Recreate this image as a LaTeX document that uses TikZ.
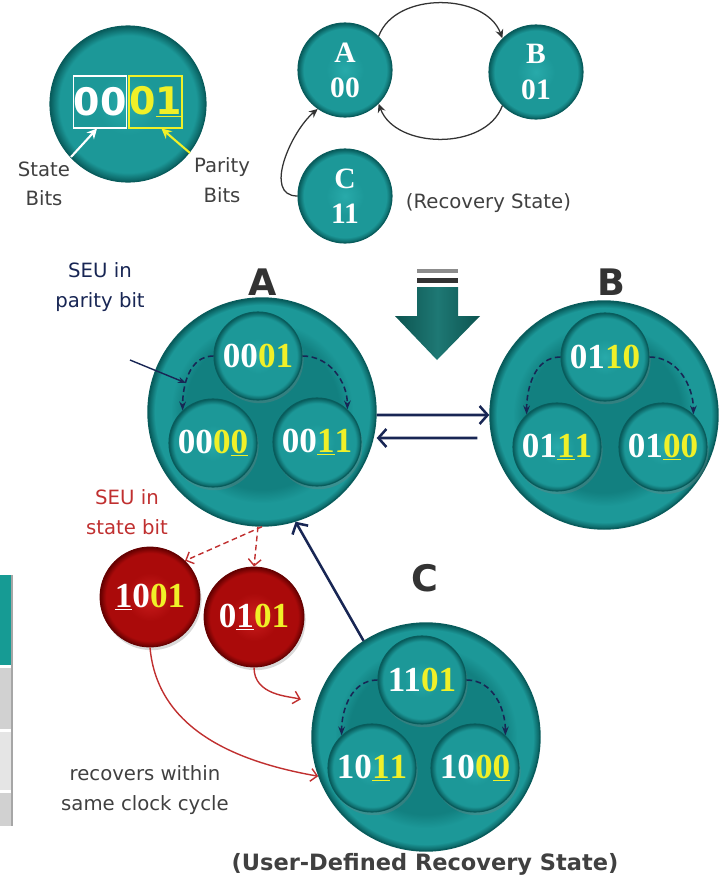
\documentclass[tikz,border=0pt]{standalone}
\usepackage{fontspec}
\setmainfont{DejaVu Sans}
\newfontfamily\bitfont{Liberation Serif}
\usetikzlibrary{arrows.meta}
\usetikzlibrary{shadows}

\definecolor{teallite}{RGB}{40,170,170}
\definecolor{tealmid}{RGB}{28,152,152}
\definecolor{tealin}{RGB}{18,128,128}
\definecolor{tealdark}{RGB}{8,92,92}
\definecolor{redlite}{RGB}{205,30,30}
\definecolor{redmid}{RGB}{170,10,10}
\definecolor{reddark}{RGB}{100,0,0}
\definecolor{bityel}{RGB}{240,240,40}
\definecolor{navy}{RGB}{24,38,84}
\definecolor{seured}{RGB}{192,48,48}
\definecolor{lblgray}{RGB}{64,64,64}
\definecolor{arrowdark}{RGB}{12,84,80}
\definecolor{arrowlite}{RGB}{30,120,116}
\definecolor{tablehead}{RGB}{22,155,148}

\pgfdeclareradialshading{tealball}{\pgfpoint{0bp}{0bp}}{color(0bp)=(teallite); color(10bp)=(tealmid); color(22bp)=(tealmid); color(25bp)=(tealdark); color(50bp)=(tealdark)}
\pgfdeclareradialshading{bigteal}{\pgfpoint{0bp}{0bp}}{color(0bp)=(tealin); color(17bp)=(tealin); color(20bp)=(tealmid); color(23.5bp)=(tealmid); color(25bp)=(tealdark); color(50bp)=(tealdark)}
\pgfdeclareradialshading{redball}{\pgfpoint{0bp}{0bp}}{color(0bp)=(redlite); color(12bp)=(redmid); color(22bp)=(redmid); color(25bp)=(reddark); color(50bp)=(reddark)}

\newcommand\wbit[1]{\textcolor{white}{#1}}
\newcommand\ybit[1]{\textcolor{bityel}{#1}}
\newcommand\ubit[1]{\underline{#1}}

\tikzset{
  ball/.style={circle, shade, shading=tealball, draw=tealdark, line width=0.8pt, inner sep=0pt},
  bigball/.style={circle, shade, shading=bigteal, draw=tealdark, line width=1pt, minimum size=57mm},
  bitball/.style={ball, minimum size=22mm, drop shadow={opacity=0.3, shadow xshift=0.4mm, shadow yshift=-0.8mm},
    font=\bitfont\bfseries\fontsize{25}{25}\selectfont},
  stateball/.style={ball, minimum size=23.5mm, text=white, align=center,
    font=\bitfont\bfseries\fontsize{21}{25}\selectfont},
  errball/.style={circle, shade, shading=redball, draw=reddark, line width=0.6pt, minimum size=25mm, inner sep=0pt,
    drop shadow={opacity=0.3, shadow xshift=0.4mm, shadow yshift=-0.8mm},
    font=\bitfont\bfseries\fontsize{25}{25}\selectfont},
  bitbox/.style={minimum width=13.25mm, minimum height=13mm, inner sep=0pt, line width=0.8pt,
    font=\bfseries\fontsize{27}{27}\selectfont},
  lbl/.style={text=lblgray, align=center, font=\fontsize{14}{21}\selectfont},
  bigletter/.style={text=black!80, font=\bfseries\fontsize{26}{26}\selectfont},
  legarrow/.style={line width=1.5pt, -{Stealth[length=2.5mm,width=2.5mm]}},
  fsmarrow/.style={draw=black!80, line width=0.9pt, -{Stealth[length=2.2mm,width=2mm]}},
  navyarrow/.style={draw=navy, line width=1.8pt, -{Straight Barb[length=2mm,width=4.5mm]}},
  navythin/.style={draw=navy, line width=1pt, -{Stealth[length=2mm]}},
  seqarrow/.style={draw=navy, dash pattern=on 4pt off 2.5pt, line width=1.1pt, -{Stealth[length=2.2mm]}},
  reddash/.style={draw=seured, dash pattern=on 4pt off 2.5pt, line width=1pt, -{Straight Barb[length=1.6mm,width=3.2mm]}},
  redarrow/.style={draw=seured, line width=1pt, -{Straight Barb[length=1.6mm,width=3.2mm]}}
}

\begin{document}
\begin{tikzpicture}[x=0.25mm, y=-0.25mm]
\useasboundingbox (0,0) rectangle (720,880);

% edge of a table at the left
\fill[tablehead] (0,575) rectangle (11,665);
\fill[black!18] (0,668) rectangle (11,729);
\fill[black!10] (0,732) rectangle (11,790);
\fill[black!18] (0,793) rectangle (11,826);
\draw[black!35, line width=1.2pt] (12,575) -- (12,826);

% state and parity bits
\node[ball, minimum size=39mm] (legend) at (128,104) {};
\node[bitbox, draw=white, text=white] (stbits) at (100,102) {00};
\node[bitbox, draw=bityel, text=bityel] (pbits) at (155.5,102) {0\ubit{1}};
\node[lbl] (stlbl) at (44,184) {State\\Bits};
\node[lbl] (palbl) at (222,180) {Parity\\Bits};
\coordinate (sttail) at (71,157);
\coordinate (patail) at (190,153);
\draw[legarrow, white] (sttail) -- ([xshift=-0.75mm]stbits.south);
\draw[legarrow, bityel] (patail) -- ([xshift=1.5mm]pbits.south);

% small state machine
\node[stateball] (sa) at (345,70) {A\\00};
\node[stateball] (sb) at (536,72) {B\\01};
\node[stateball] (sc) at (345,196) {C\\11};
\node[lbl, anchor=west] (reclbl) at (401,203) {(Recovery State)};
\draw[fsmarrow] (sa.45) to[out=70,in=110] (sb.135);
\draw[fsmarrow] (sb.225) to[out=-110,in=-70] (sa.-45);
\draw[fsmarrow] (sc.west) to[out=180,in=220] (sa.235);

% big down arrow
\fill[black!45] (417,269) rectangle (458,273);
\fill[black!80] (417,278) rectangle (458,283);
\shade[left color=arrowdark, right color=arrowdark, middle color=arrowlite]
  (417,287) -- (458,287) -- (458,316) -- (480,316) -- (437,360) -- (395,316) -- (417,316) -- cycle;

% encoded state A
\node[bigletter] (labA) at (263,282) {A};
\node[bigball] (bigA) at (262,412) {};
\node[bitball] (a1) at (258,356) {\wbit{00}\ybit{01}};
\node[bitball] (a2) at (213,443) {\wbit{00}\ybit{0\ubit{0}}};
\node[bitball] (a3) at (317,442) {\wbit{00}\ybit{\ubit{1}1}};
\draw[seqarrow] (a1.west) to[out=180,in=90] (a2.133);
\draw[seqarrow] (a1.east) to[out=0,in=90] (a3.47);

% encoded state B
\node[bigletter] (labB) at (611,282) {B};
\node[bigball] (bigB) at (604,415) {};
\node[bitball] (b1) at (605,357) {\wbit{01}\ybit{10}};
\node[bitball] (b2) at (557,447) {\wbit{01}\ybit{\ubit{1}1}};
\node[bitball] (b3) at (663,447) {\wbit{01}\ybit{\ubit{0}0}};
\draw[seqarrow] (b1.west) to[out=180,in=90] (b2.133);
\draw[seqarrow] (b1.east) to[out=0,in=90] (b3.47);

% encoded recovery state C
\node[bigletter] (labC) at (425,578) {C};
\node[bigball] (bigC) at (426,737) {};
\node[bitball] (c1) at (422,680) {\wbit{11}\ybit{01}};
\node[bitball] (c2) at (372,768) {\wbit{10}\ybit{\ubit{1}1}};
\node[bitball] (c3) at (475,768) {\wbit{10}\ybit{0\ubit{0}}};
\draw[seqarrow] (c1.west) to[out=180,in=90] (c2.133);
\draw[seqarrow] (c1.east) to[out=0,in=90] (c3.47);

% transitions
\draw[navyarrow] ([yshift=-0.75mm]bigA.east) -- (bigB.west);
\draw[navyarrow] ([xshift=-3mm,yshift=-5.75mm]bigB.west) -- ([yshift=-6.5mm]bigA.east);
\draw[navyarrow] (bigC.123) -- (bigA.-73);

% SEU in parity bit
\node[lbl, text=navy] (seupar) at (100,287) {SEU in\\parity bit};
\coordinate (seutail) at (130,360);
\coordinate (seuhit) at (186,383);
\draw[navythin] (seutail) -- (seuhit);

% SEU in state bit
\node[lbl, text=seured] (seust) at (127,512) {SEU in\\state bit};
\node[errball] (r1) at (150,597) {\wbit{\ubit{1}0}\ybit{01}};
\node[errball] (r2) at (254,617) {\wbit{0\ubit{1}}\ybit{01}};
\draw[reddash] (bigA.-90) -- (r1.46);
\draw[reddash] (bigA.-92) -- (r2.north);
\draw[redarrow] (r1.south) to[out=-85,in=170] (bigC.200);
\draw[redarrow, shorten >=4mm] (r2.south) to[out=-90,in=165] (bigC.163);
\node[lbl] (reclk) at (145,790) {recovers within\\same clock cycle};

\node[lbl, text=black!75, font=\bfseries\fontsize{16}{16}\selectfont] (userlbl) at (425,864) {(User-Defined Recovery State)};
\end{tikzpicture}
\end{document}
